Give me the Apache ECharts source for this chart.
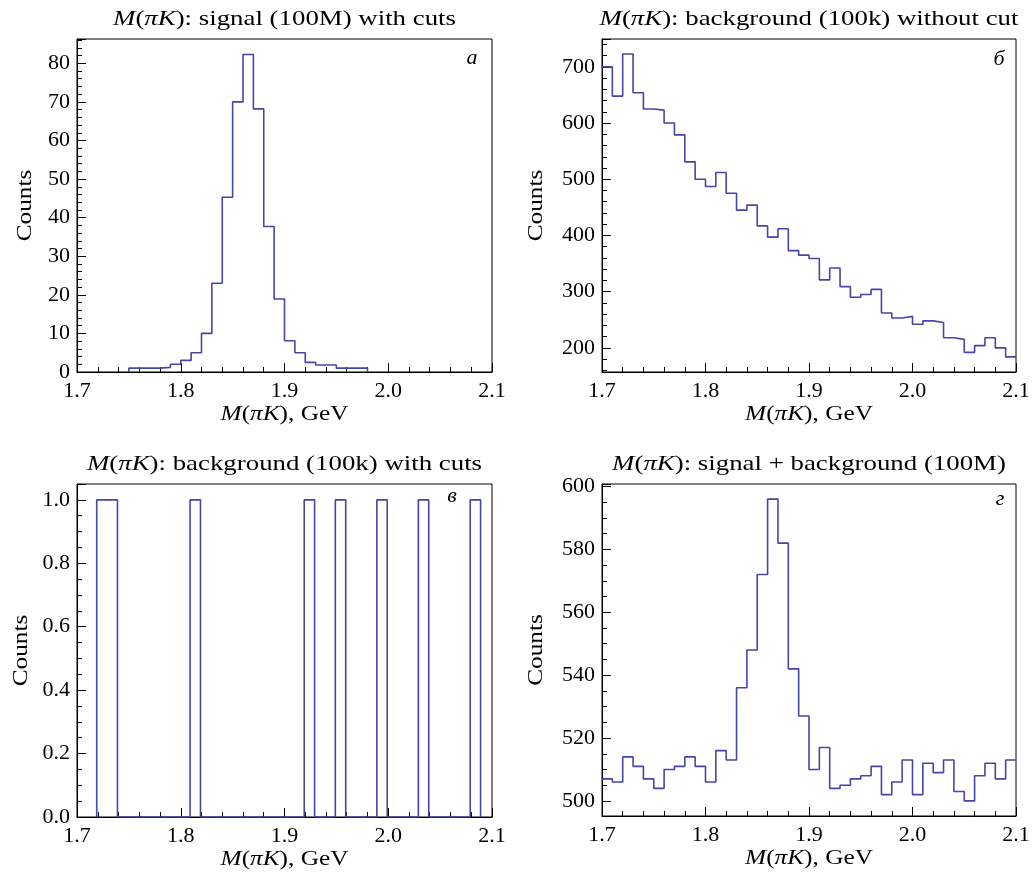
<!DOCTYPE html>
<html><head><meta charset="utf-8">
<script src="https://cdn.jsdelivr.net/npm/echarts@6/dist/echarts.min.js"></script>
<style>html,body{margin:0;padding:0;background:#fff}#c{width:1034px;height:876px}</style>
</head><body><div id="c"></div>
<script>
// ---------- data ----------
const binWidth = 0.01;
// Panel а: signal (100M) with cuts
const sigStart = 1.75;
const sigCounts = [1, 1, 1, 1.2, 2, 3, 5, 10, 23, 45.3, 70, 82.3, 68.2, 37.7, 18.9, 8.1, 5, 2.5, 1.8, 1.8, 1, 1, 1];
// Panel б: background (100k) without cut
const bkgStart = 1.70;
const bkgCounts = [700, 648, 723, 654, 625, 623, 600, 579, 531, 500, 487, 512, 475, 445, 454, 417, 397, 412, 373, 365,
                   359, 321, 342, 309, 290, 295, 304, 262, 253, 256, 242, 248, 245, 218, 215, 192, 204, 218, 200, 184];
// Panel в: background (100k) with cuts
const bkgCutStart = 1.719;
const bkgCutCounts = [1,1,0,0,0,0,0,0,0,1,0,0,0,0,0,0,0,0,0,0,1,0,0,1,0,0,0,1,0,0,0,1,0,0,0,0,1];
// Panel г: signal + background (100M)
const sumStart = 1.70;
const sumCounts = [507, 506, 514, 511, 507, 504, 510, 511, 514, 511, 506, 516, 513, 536, 548, 572, 596, 582, 542, 527,
                   510, 517, 504, 505, 507, 508, 511, 502, 506, 513, 502, 512, 509, 513, 503, 500, 508, 512, 507, 513];

const panelTitles = ['signal (100M) with cuts', 'background (100k) without cut', 'background (100k) with cuts', 'signal + background (100M)'];
const panelLetters = ['а', 'б', 'в', 'г'];
const xAxisTitle = 'GeV';
const yAxisTitle = 'Counts';
const xRange = [1.7, 2.1];
const xMajor = 0.1;
const yRanges = [[0, 86.3], [157, 749.6], [0, 1.05], [495.2, 600.8]];
const yMajor = [10, 100, 0.2, 20];
const yMinorSplit = [5, 5, 4, 4];
const yDecimals = [0, 0, 1, 0];

// ---------- layout ----------
const FONT = '"Liberation Serif", "Times New Roman", serif';
const FS = 22;
const COLOR = '#4646a8';
const grids = [
  {left: 77, top: 39, width: 415, height: 333},
  {left: 602, top: 39, width: 414, height: 333},
  {left: 77, top: 484, width: 415, height: 333},
  {left: 602, top: 484, width: 414, height: 332}
];
const yNamePosX = [25, 536, 21, 536];
const letterPos = [[472, 58], [999, 59], [452, 496], [1000, 499]];

function stepPoints(start, counts, base) {
  const pts = [];
  if (base !== null) pts.push([start, base]);
  counts.forEach((c, i) => {
    const a = +(start + i * binWidth).toFixed(5);
    const b = +(start + (i + 1) * binWidth).toFixed(5);
    pts.push([a, c], [b, c]);
  });
  if (base !== null) pts.push([+(start + counts.length * binWidth).toFixed(5), base]);
  return pts;
}

const seriesData = [
  stepPoints(sigStart, sigCounts, 0),
  stepPoints(bkgStart, bkgCounts, null),
  stepPoints(bkgCutStart, bkgCutCounts, 0),
  stepPoints(sumStart, sumCounts, null)
];

const rich = {
  i: {fontFamily: FONT, fontSize: FS, fontStyle: 'italic', fill: '#000', color: '#000'},
  n: {fontFamily: FONT, fontSize: FS, fill: '#000', color: '#000'}
};
const mathM = '{i|M}{n|(}{i|πK}{n|)}';

const xAxes = [], yAxes = [], series = [], graphics = [];
for (let k = 0; k < 4; k++) {
  xAxes.push({
    type: 'value', gridIndex: k, min: xRange[0], max: xRange[1], interval: xMajor,
    axisLine: {show: true, onZero: false, lineStyle: {color: '#000', width: 1}},
    axisTick: {show: true, inside: true, length: 9, lineStyle: {color: '#000', width: 1}},
    minorTick: {show: true, splitNumber: 5, length: 5, lineStyle: {color: '#000', width: 1}},
    splitLine: {show: false},
    axisLabel: {fontFamily: FONT, fontSize: FS, color: '#000', margin: 8,
      formatter: v => v.toFixed(1)}
  });
  const mj = yMajor[k], dec = yDecimals[k];
  yAxes.push({
    type: 'value', gridIndex: k, min: yRanges[k][0], max: yRanges[k][1],
    minInterval: mj, maxInterval: mj, splitNumber: 5,
    axisLine: {show: true, onZero: false, lineStyle: {color: '#000', width: 1}},
    axisTick: {show: true, inside: true, length: 9, lineStyle: {color: '#000', width: 1}},
    minorTick: {show: true, splitNumber: yMinorSplit[k], length: 5, lineStyle: {color: '#000', width: 1}},
    splitLine: {show: false},
    axisLabel: {fontFamily: FONT, fontSize: FS, color: '#000', margin: 7,
      showMinLabel: true, showMaxLabel: true,
      formatter: v => {
        const r = v / mj;
        return Math.abs(r - Math.round(r)) < 1e-6 ? v.toFixed(dec) : '';
      }}
  });
  series.push({
    type: 'line', xAxisIndex: k, yAxisIndex: k, data: seriesData[k],
    showSymbol: false, symbol: 'none', clip: true,
    lineStyle: {color: COLOR, width: 1.6}, silent: true
  });
  const g = grids[k];
  const cx = g.left + g.width / 2, cy = g.top + g.height / 2;
  // panel title
  graphics.push({
    type: 'text', x: cx, y: k < 2 ? 19 : 464, scaleX: 1.22,
    style: {text: mathM + '{n|: ' + panelTitles[k] + '}', rich: rich, align: 'center', verticalAlign: 'middle',
      font: FS + 'px ' + FONT, fill: '#000'}
  });
  // x-axis title
  graphics.push({
    type: 'text', x: cx, y: g.top + g.height + 42, scaleX: 1.15,
    style: {text: mathM + '{n|, ' + xAxisTitle + '}', rich: rich, align: 'center', verticalAlign: 'middle',
      font: FS + 'px ' + FONT, fill: '#000'}
  });
  // y-axis title
  graphics.push({
    type: 'text', x: yNamePosX[k], y: cy, rotation: Math.PI / 2, scaleX: 1.15,
    style: {text: yAxisTitle, align: 'center', verticalAlign: 'middle',
      font: FS + 'px ' + FONT, fill: '#000'}
  });
  // panel letter
  graphics.push({
    type: 'text', x: letterPos[k][0], y: letterPos[k][1],
    style: {text: panelLetters[k], align: 'center', verticalAlign: 'middle',
      font: 'italic ' + FS + 'px ' + FONT, fill: '#000'}
  });
}

const chart = echarts.init(document.getElementById('c'), null, {renderer: 'canvas'});
chart.setOption({
  animation: false,
  backgroundColor: '#fff',
  grid: grids.map(g => Object.assign({show: true, borderColor: '#000', borderWidth: 1, backgroundColor: 'transparent',
    containLabel: false, outerBoundsMode: 'none'}, g)),
  xAxis: xAxes,
  yAxis: yAxes,
  series: series,
  graphic: graphics
});
</script>
</body></html>
